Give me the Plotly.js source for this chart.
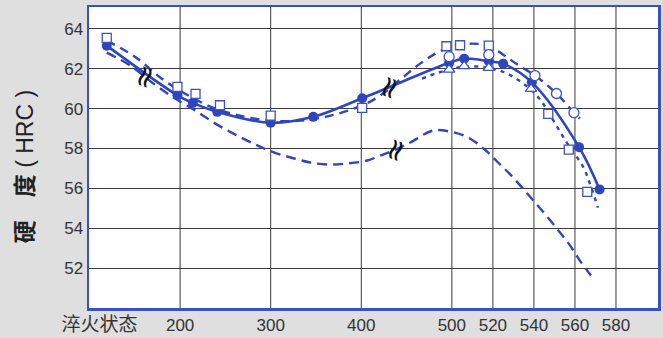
<!DOCTYPE html>
<html><head><meta charset="utf-8">
<script src="https://cdn.plot.ly/plotly-3.0.1.min.js"></script>
<style>html,body{margin:0;padding:0;background:#dfdfdf;overflow:hidden;}</style>
</head><body><div id="chart" style="width:663px;height:338px"></div>
<script>
// ---- data (x in tempering temperature °C, 'Q' = as-quenched) ----
const xTickTemps  = ['Q', 200, 300, 400, 500, 520, 540, 560, 580];
const xTickLabels = ['淬火状态', '200', '300', '400', '500', '520', '540', '560', '580'];
const yTicks = [52, 54, 56, 58, 60, 62, 64];

// solid curve with filled circles
const mainT = ['Q', 197, 214, 241, 300, 347, 401, 497, 506, 518, 525, 539, 562, 572];
const mainH = [63.16, 60.67, 60.29, 59.84, 59.29, 59.59, 60.52, 62.30, 62.51, 62.38, 62.25, 61.32, 58.07, 55.95];

// upper dashed curve
const upT = ['Q', 150, 181, 211, 239, 266, 299, 333, 366, 401, 421, 443, 465, 484, 501.5, 509, 517.6, 525, 532, 540.5, 551, 559.5, 562.4];
const upH = [63.41, 62.61, 61.46, 60.61, 60.00, 59.65, 59.40, 59.40, 59.65, 60.16, 60.66, 61.46, 62.26, 62.81, 63.16, 63.26, 63.16, 62.71, 62.21, 61.66, 60.76, 59.80, 59.50];

// dotted curve
const dotT = [467, 482, 497, 506, 517.6, 527, 538.5, 543.4, 547.8, 552.7, 557.6, 563.9, 567.3, 571.2];
const dotH = [61.51, 61.76, 61.96, 62.11, 62.06, 61.76, 60.96, 60.41, 59.70, 58.85, 58.05, 57.10, 56.24, 55.04];

// lower dashed curve
const lowT = ['Q', 145, 172, 194.5, 217, 239, 261, 283, 304, 326, 343.5, 363, 384, 406.5, 424, 438, 454, 479, 498, 508, 516, 522, 528, 534.6, 540.5, 546.8, 552.7, 557.6, 562.4, 567.8];
const lowH = [62.81, 62.16, 61.21, 60.51, 59.90, 59.25, 58.70, 58.20, 57.80, 57.50, 57.30, 57.20, 57.25, 57.40, 57.70, 57.95, 58.30, 58.90, 58.85, 58.55, 57.95, 57.35, 56.75, 56.00, 55.30, 54.54, 53.79, 53.14, 52.38, 51.63];

// open square markers
const sqT = ['Q', 197, 217, 244, 300, 401, 494, 504, 518, 547, 557, 566];
const sqH = [63.55, 61.09, 60.74, 60.17, 59.65, 60.04, 63.13, 63.18, 63.16, 59.74, 57.95, 55.83];

// open circle markers
const ocT = [497, 518, 540.5, 551, 559.5];
const ocH = [62.61, 62.71, 61.66, 60.76, 59.80];

// open triangle markers
const trT = [497, 506, 518, 538.6];
const trH = [61.96, 62.13, 62.05, 60.99];

// break marks on curves
const brkT = [160, 430, 437];
const brkH = [61.62, 61.06, 57.95];

// ---- axis mapping: 500–580 °C region is stretched ----
const STRETCH = 2.265;
function toU(t) {
  if (t === 'Q') return 119;
  return t <= 500 ? t : 500 + (t - 500) * STRETCH;
}
function labelU(t) { return t === 'Q' ? 111 : toU(t); }

const BLUE = '#2f45bf';
const LBLUE = '#3a52c6';

const traces = [
  {x: lowT.map(toU), y: lowH, mode: 'lines', line: {color: BLUE, width: 2.4, dash: '10px,6px', shape: 'spline', smoothing: 1}, hoverinfo: 'skip'},
  {x: upT.map(toU), y: upH, mode: 'lines', line: {color: BLUE, width: 2.4, dash: '9px,6px', shape: 'spline', smoothing: 1}, hoverinfo: 'skip'},
  {x: dotT.map(toU), y: dotH, mode: 'lines', line: {color: BLUE, width: 2.4, dash: '4px,5px', shape: 'spline', smoothing: 1}, hoverinfo: 'skip'},
  {x: mainT.map(toU), y: mainH, mode: 'lines+markers', line: {color: BLUE, width: 2.6, shape: 'spline', smoothing: 1},
   marker: {symbol: 'circle', size: 10, color: BLUE}},
  {x: sqT.map(toU), y: sqH, mode: 'markers', marker: {symbol: 'square', size: 9, color: '#ffffff', line: {color: LBLUE, width: 1.3}}},
  {x: ocT.map(toU), y: ocH, mode: 'markers', marker: {symbol: 'circle', size: 10, color: '#ffffff', line: {color: LBLUE, width: 1.3}}},
  {x: trT.map(toU), y: trH, mode: 'markers', marker: {symbol: 'triangle-up', size: 10, color: '#ffffff', line: {color: LBLUE, width: 1.3}}}
];

const gridTemps = xTickTemps.filter(t => t !== 'Q');
const shapes = gridTemps.map(t => ({
  type: 'line', xref: 'x', yref: 'paper', x0: toU(t), x1: toU(t), y0: 0, y1: 1,
  line: {color: '#3a3a3a', width: 1}, layer: 'below'
}));

const annotations = brkT.map((t, i) => ({
  x: toU(t), y: brkH[i], xref: 'x', yref: 'y', text: '≈', showarrow: false,
  textangle: -70, font: {size: 30, color: '#111', family: 'DejaVu Sans'}
}));
annotations.push({
  xref: 'paper', yref: 'paper', x: -0.113, y: 0.47, xanchor: 'center', yanchor: 'middle',
  text: '<b>硬　度</b> ( HRC )', textangle: -90, showarrow: false,
  font: {size: 23, color: '#222', family: 'Liberation Sans, Noto Sans CJK SC'}
});

const layout = {
  width: 663, height: 338, autosize: false,
  margin: {l: 89, r: 5, t: 7, b: 30, pad: 0},
  paper_bgcolor: '#dfdfdf', plot_bgcolor: '#ffffff',
  showlegend: false,
  xaxis: {
    range: [99.4, 727.6], tickmode: 'array',
    tickvals: xTickTemps.map(labelU),
    ticktext: xTickLabels.map((s, i) => xTickTemps[i] === 'Q' ? '<span style="font-size:19px">' + s + '</span>' : s),
    showgrid: false, zeroline: false, ticks: '',
    showline: true, mirror: true, linecolor: '#3b50c4', linewidth: 2.5,
    tickfont: {size: 17, color: '#333', family: 'Liberation Sans, Noto Sans CJK SC'}
  },
  yaxis: {
    range: [50, 65.1], tickmode: 'array', tickvals: yTicks,
    showgrid: true, gridcolor: '#3a3a3a', gridwidth: 1, zeroline: false, ticks: '',
    showline: true, mirror: true, linecolor: '#3b50c4', linewidth: 2.5,
    tickfont: {size: 17, color: '#333', family: 'Liberation Sans'}
  },
  shapes: shapes,
  annotations: annotations
};

Plotly.newPlot('chart', traces, layout, {displayModeBar: false, staticPlot: true});
</script></body></html>
